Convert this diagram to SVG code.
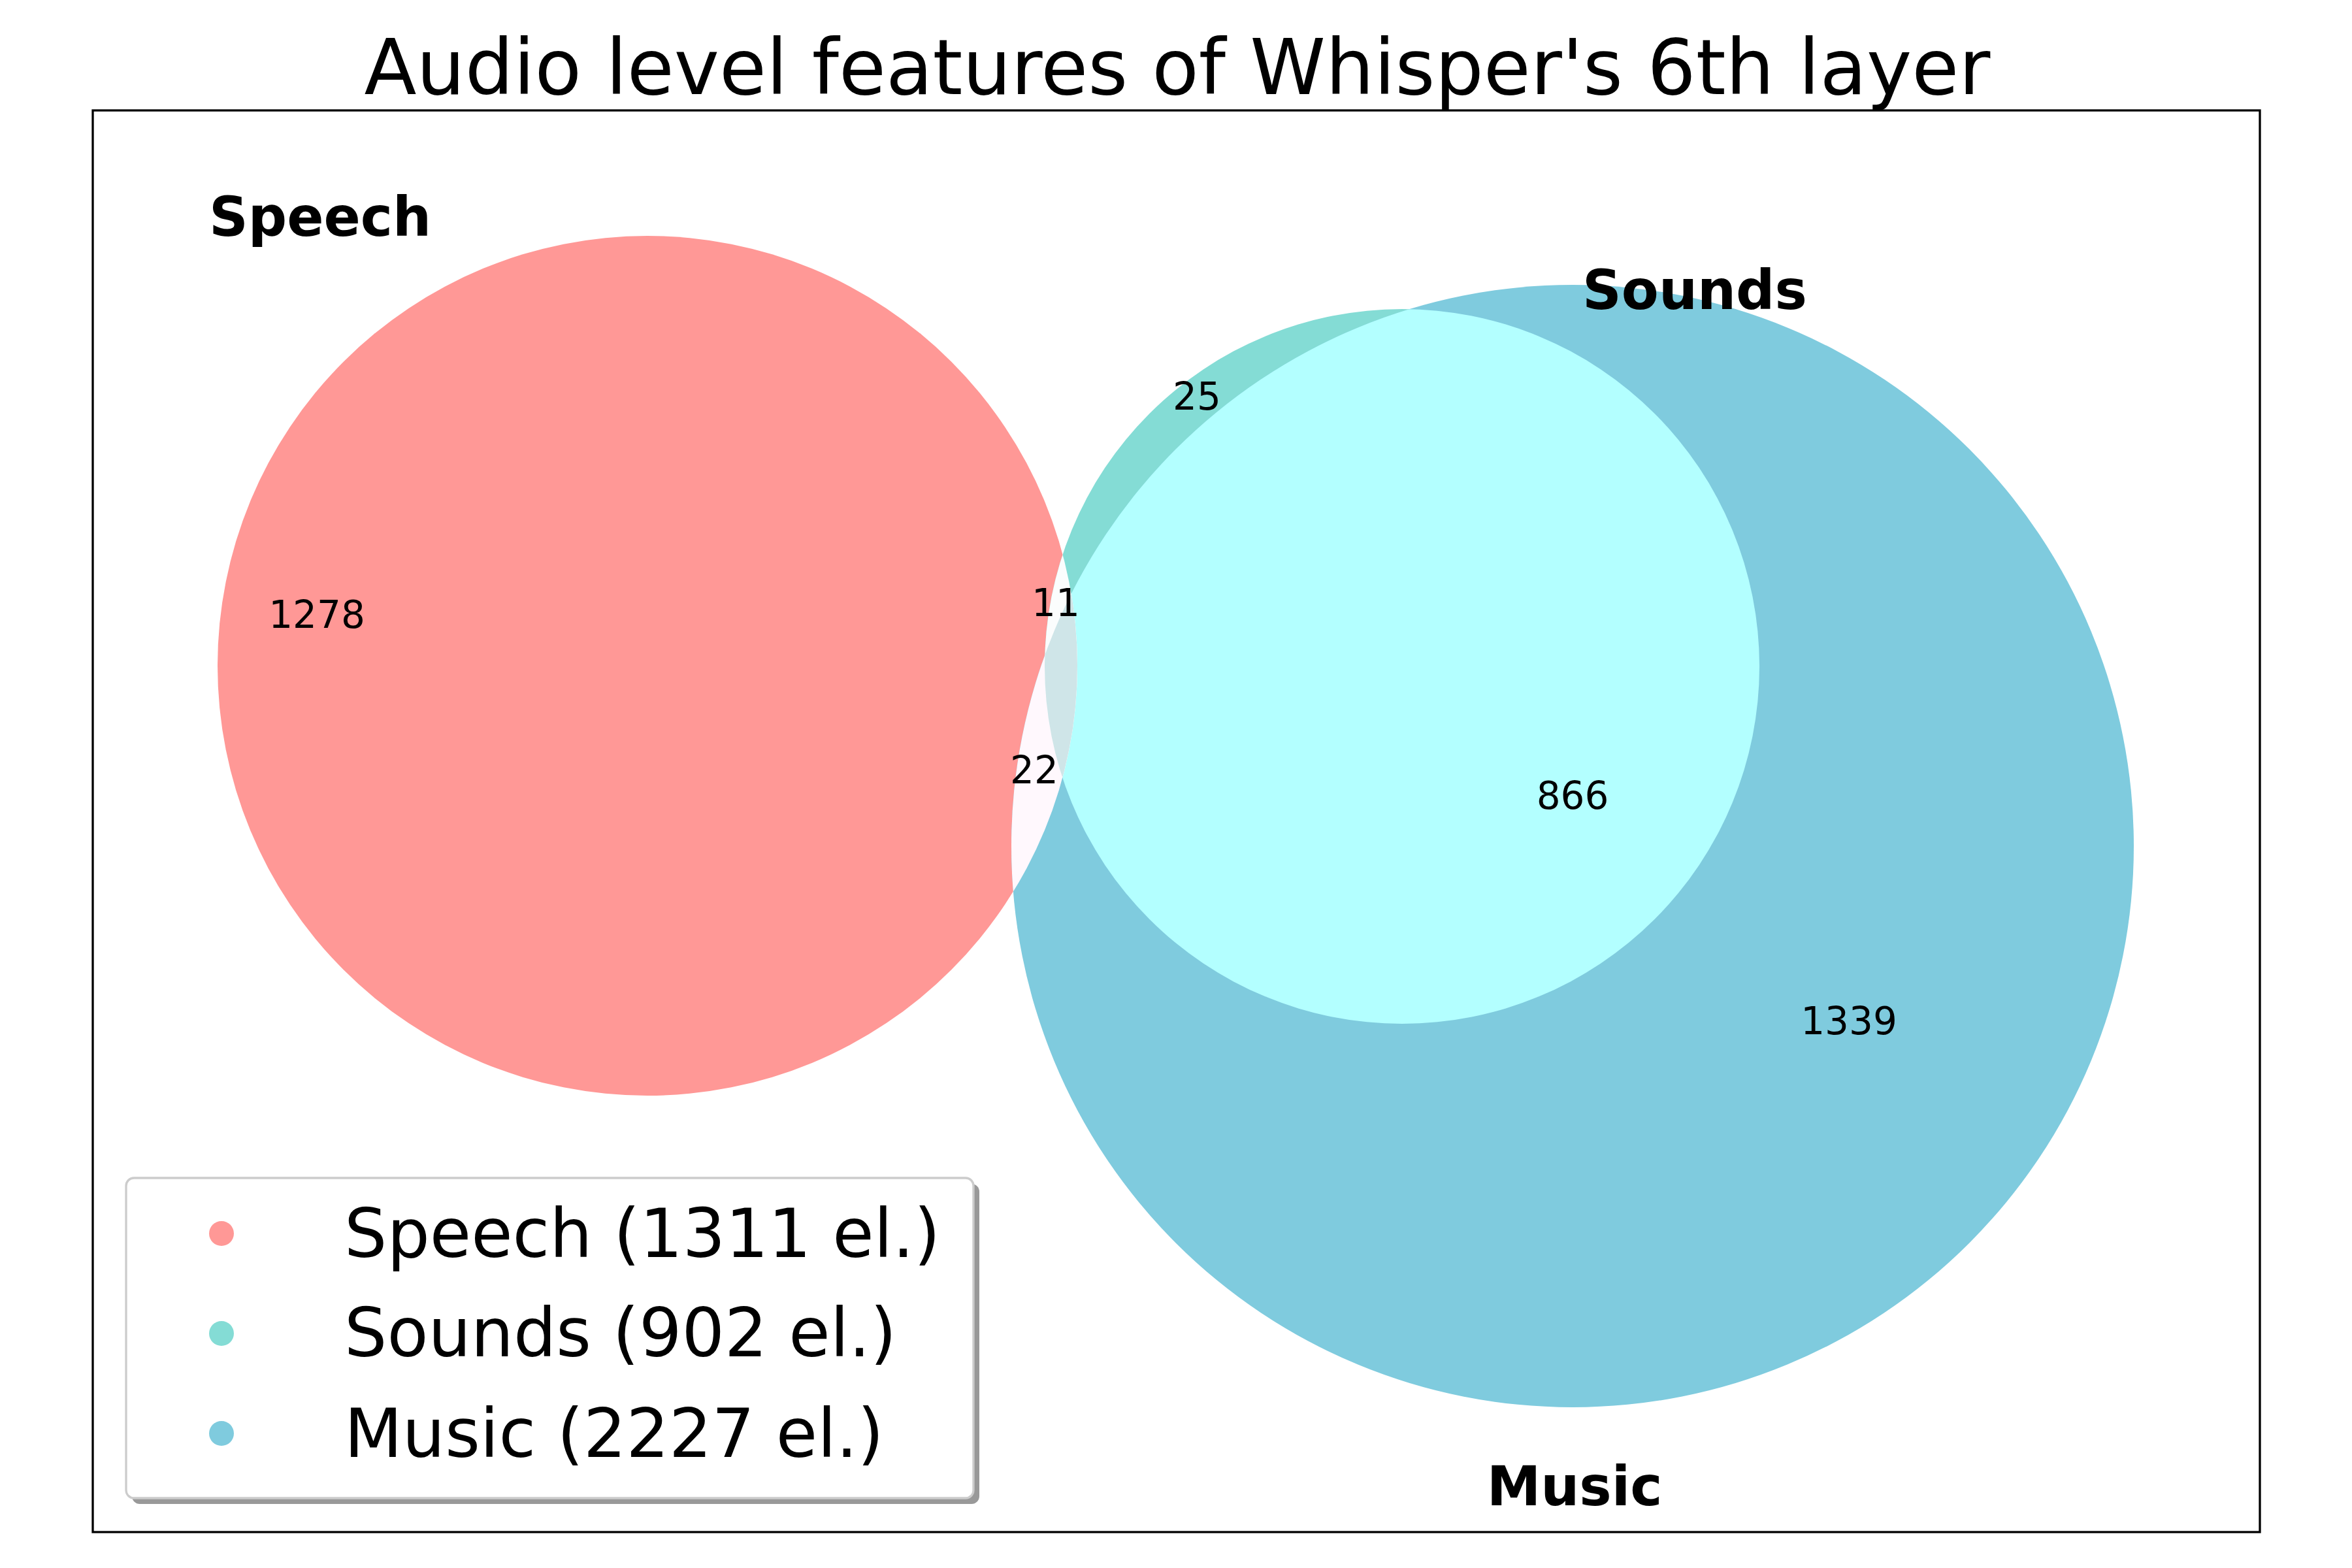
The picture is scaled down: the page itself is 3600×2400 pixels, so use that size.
<svg xmlns="http://www.w3.org/2000/svg" width="3600" height="2400" viewBox="0 0 3600 2400">
<style>
text{font-family:"DejaVu Sans","Liberation Sans",sans-serif;fill:#000}
.title{font-size:117px;text-anchor:middle}
.set{font-size:83px;font-weight:bold;text-anchor:middle}
.num{font-size:58px;text-anchor:middle}
.leg{font-size:103px}
</style>
<defs>
<clipPath id="cMusic"><circle cx="2407" cy="1295" r="859"/></clipPath>
<clipPath id="cSounds"><circle cx="2146" cy="1020" r="547"/></clipPath>
</defs>
<rect width="3600" height="2400" fill="#fff"/>
<text class="title" x="1802" y="144">Audio level features of Whisper's 6th layer</text>
<g id="venn">
<g id="speech"><circle cx="991" cy="1019" r="658" fill="#ff9896"/></g>
<g id="sounds"><circle cx="2146" cy="1020" r="547" fill="#84dcd5"/></g>
<g id="music"><circle cx="2407" cy="1295" r="859" fill="#7fcbde"/></g>
<g id="sounds-music" clip-path="url(#cMusic)"><circle cx="2146" cy="1020" r="547" fill="#b3ffff"/></g>
<g id="speech-music" clip-path="url(#cMusic)"><circle cx="991" cy="1019" r="658" fill="#fff8fd"/></g>
<g id="speech-sounds" clip-path="url(#cSounds)"><circle cx="991" cy="1019" r="658" fill="#fbfdfd"/></g>
<g id="speech-sounds-music" clip-path="url(#cMusic)"><circle cx="991" cy="1019" r="658" fill="#cfe5e8" clip-path="url(#cSounds)"/></g>
</g>
<g id="connectors"/>
<g id="labels">
<text class="set" x="490" y="361">Speech</text>
<text class="set" x="2594" y="473">Sounds</text>
<text class="set" x="2410" y="2304">Music</text>
<text class="num" x="485" y="961">1278</text>
<text class="num" x="1832" y="627">25</text>
<text class="num" x="1616" y="943">11</text>
<text class="num" x="1583" y="1199">22</text>
<text class="num" x="2407" y="1238">866</text>
<text class="num" x="2830" y="1583">1339</text>
</g>
<rect x="142" y="169" width="3317" height="2176" fill="none" stroke="#000" stroke-width="3.3"/>
<g id="legend">
<rect x="202" y="1812" width="1297" height="490" rx="12" fill="#999"/>
<rect x="193" y="1803" width="1297" height="490" rx="12" fill="#fff" stroke="#ccc" stroke-width="3.3"/>
<circle cx="339" cy="1888" r="19" fill="#ff9896"/>
<circle cx="339" cy="2041" r="19" fill="#84dcd5"/>
<circle cx="339" cy="2194" r="19" fill="#7fcbde"/>
<text class="leg" x="527" y="1924">Speech (1311 el.)</text>
<text class="leg" x="527" y="2076">Sounds (902 el.)</text>
<text class="leg" x="527" y="2230">Music (2227 el.)</text>
</g>
</svg>
